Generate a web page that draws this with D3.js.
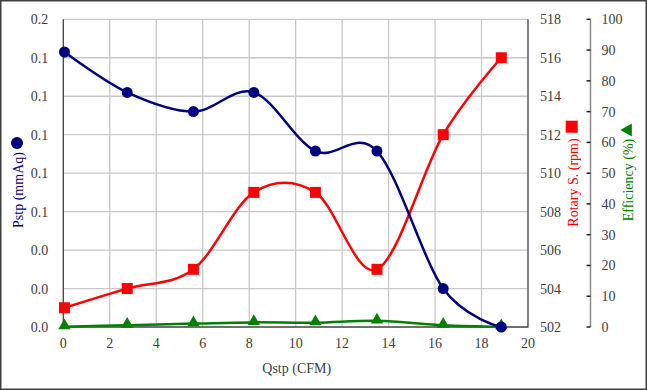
<!DOCTYPE html>
<html>
<head>
<meta charset="utf-8">
<script src="https://cdn.jsdelivr.net/npm/d3@7"></script>
<style>
  body { margin: 0; background: #fff; }
  svg text { font-family: "Liberation Serif", "Times New Roman", "DejaVu Serif", serif; font-size: 14px; fill: #404040; }
</style>
</head>
<body>
<script>
const svgWidth = 647,
    svgHeight = 390,
    margin = { top: 19.3, right: 119, bottom: 63, left: 63.3 },
    width = svgWidth - margin.left - margin.right,
    height = svgHeight - margin.top - margin.bottom;

// data
var qstp = [0.05, 2.75, 5.6, 8.2, 10.85, 13.5, 16.35, 18.85];
var pstp = [0.143, 0.122, 0.112, 0.122, 0.0915, 0.0915, 0.020, 0.0];
var rotary = [503, 504, 505, 509, 509, 505, 512, 516];
var efficiency = [0.1, 0.6, 1.1, 1.5, 1.4, 2.0, 0.6, 0.1];

var xTicks = d3.range(0, 21, 2);
var pTicks = [0, 0.02, 0.04, 0.06, 0.08, 0.10, 0.12, 0.14, 0.16];
var pLabels = ["0.0", "0.0", "0.0", "0.1", "0.1", "0.1", "0.1", "0.1", "0.2"];
var rTicks = d3.range(502, 519, 2);
var eTicks = d3.range(0, 101, 10);

var svg = d3.select("body").append("svg")
    .attr("width", svgWidth)
    .attr("height", svgHeight)
    .attr("font-family", "Liberation Serif, serif");

// outer frame
svg.append("rect")
    .attr("x", 0.75).attr("y", 0.75)
    .attr("width", svgWidth - 1.5).attr("height", svgHeight - 1.5)
    .attr("fill", "none").attr("stroke", "#404040").attr("stroke-width", 1.5);

var g = svg.append("g")
    .attr("transform", "translate(" + margin.left + "," + margin.top + ")");

var x = d3.scaleLinear().domain([0, 20]).range([0, width]);
var yP = d3.scaleLinear().domain([0, 0.16]).range([height, 0]);
var yR = d3.scaleLinear().domain([502, 518]).range([height, 0]);
var yE = d3.scaleLinear().domain([0, 100]).range([height, 0]);

// grid
g.append("g").selectAll("line").data(xTicks.slice(1, -1)).enter().append("line")
    .attr("x1", d => x(d)).attr("x2", d => x(d))
    .attr("y1", 0).attr("y2", height)
    .attr("stroke", "#c8c8c8").attr("stroke-width", 1.3);
g.append("g").selectAll("line").data(pTicks.slice(1)).enter().append("line")
    .attr("x1", 0).attr("x2", width)
    .attr("y1", d => yP(d)).attr("y2", d => yP(d))
    .attr("stroke", "#c8c8c8").attr("stroke-width", 1.3);

// plot frame: left, bottom, right
g.append("path")
    .attr("d", "M0,0V" + height + "H" + width + "V0")
    .attr("fill", "none").attr("stroke", "#404040").attr("stroke-width", 1.3);

// x labels
g.append("g").selectAll("text").data(xTicks).enter().append("text")
    .attr("x", d => x(d)).attr("y", height + 21)
    .attr("text-anchor", "middle")
    .text(d => d);

// left labels
g.append("g").selectAll("text").data(pTicks).enter().append("text")
    .attr("x", -15).attr("y", d => yP(d) + 5)
    .attr("text-anchor", "end")
    .text((d, i) => pLabels[i]);

// rotary labels
g.append("g").selectAll("text").data(rTicks).enter().append("text")
    .attr("x", width + 12).attr("y", d => yR(d) + 5)
    .text(d => d);

// efficiency axis
var eAx = width + 62.5;
g.append("line")
    .attr("x1", eAx).attr("x2", eAx).attr("y1", 0).attr("y2", height)
    .attr("stroke", "#8c8c8c").attr("stroke-width", 1.5);
g.append("g").selectAll("line").data(eTicks).enter().append("line")
    .attr("x1", eAx - 4).attr("x2", eAx)
    .attr("y1", d => yE(d)).attr("y2", d => yE(d))
    .attr("stroke", "#202020").attr("stroke-width", 1.5);
g.append("g").selectAll("text").data(eTicks).enter().append("text")
    .attr("x", eAx + 11).attr("y", d => yE(d) + 5)
    .text(d => d);

// series
var curve = d3.curveCardinal.tension(0);
function drawLine(vals, yScale, color) {
    g.append("path")
        .datum(vals)
        .attr("fill", "none")
        .attr("stroke", color)
        .attr("stroke-width", 2.5)
        .attr("d", d3.line().curve(curve)
            .x((d, i) => x(qstp[i]))
            .y(d => yScale(d)));
}
drawLine(efficiency, yE, "#008000");
drawLine(rotary, yR, "#ff0000");
drawLine(pstp, yP, "#000080");

var tri = d3.symbol().type(d3.symbolTriangle).size(65);
g.append("g").selectAll("path").data(efficiency).enter().append("path")
    .attr("d", tri)
    .attr("transform", (d, i) => "translate(" + x(qstp[i]) + "," + (yE(d) - 1) + ")")
    .attr("fill", "#008000");
g.append("g").selectAll("rect").data(rotary).enter().append("rect")
    .attr("x", (d, i) => x(qstp[i]) - 5.5)
    .attr("y", d => yR(d) - 5.5)
    .attr("width", 11).attr("height", 11)
    .attr("fill", "#ff0000");
g.append("g").selectAll("circle").data(pstp).enter().append("circle")
    .attr("cx", (d, i) => x(qstp[i]))
    .attr("cy", d => yP(d))
    .attr("r", 5.5)
    .attr("fill", "#000080");

// axis titles
svg.append("text")
    .attr("x", 296.7).attr("y", 373)
    .attr("text-anchor", "middle")
    .text("Qstp (CFM)");

svg.append("text")
    .attr("transform", "translate(23,190) rotate(-90)")
    .attr("text-anchor", "middle")
    .style("fill", "#000080")
    .text("Pstp (mmAq)");
svg.append("circle").attr("cx", 17).attr("cy", 143).attr("r", 6).attr("fill", "#000080");

svg.append("text")
    .attr("transform", "translate(577.5,182.5) rotate(-90)")
    .attr("text-anchor", "middle")
    .style("fill", "#ff0000")
    .text("Rotary S. (rpm)");
svg.append("rect").attr("x", 565.7).attr("y", 120.7).attr("width", 12).attr("height", 12).attr("fill", "#ff0000");

svg.append("text")
    .attr("transform", "translate(633,180) rotate(-90)")
    .attr("text-anchor", "middle")
    .style("fill", "#008000")
    .text("Efficiency (%)");
svg.append("path")
    .attr("d", d3.symbol().type(d3.symbolTriangle).size(75))
    .attr("transform", "translate(628,130) rotate(-90)")
    .attr("fill", "#008000");
</script>
</body>
</html>
